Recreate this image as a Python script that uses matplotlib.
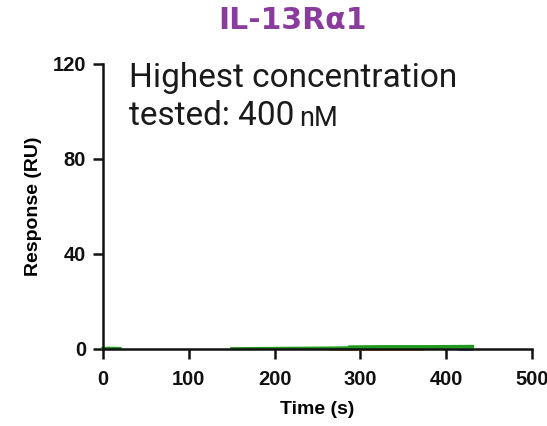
import matplotlib
matplotlib.use("Agg")
import matplotlib.pyplot as plt

# sensorgram traces (time s, response RU), all essentially flat ~0
t_start = [0, 8, 20]
r_start = [0.2, 0.3, 0.2]
t_mid = [150, 190, 230, 270, 288]
r_mid = [0.1, 0.2, 0.3, 0.4, 0.5]
t_high = [288, 330, 380, 430]
r_high = [0.7, 0.8, 0.8, 0.9]
t_orange = [265, 320, 373]
r_orange = [-0.5, -0.5, -0.5]
t_blue = [415, 430]
r_blue = [-0.3, -0.3]

xticks = [0, 100, 200, 300, 400, 500]
yticks = [0, 40, 80, 120]

fig = plt.figure(figsize=(5.47, 4.26), dpi=100)
ax = fig.add_axes([0.188, 0.181, 0.785, 0.669])

green = "#1f9a1f"
ax.plot(t_orange, r_orange, color="#e8862a", lw=1.2, clip_on=False)
ax.plot(t_blue, r_blue, color="#3a6fc4", lw=1.2, clip_on=False)
ax.plot(t_start, r_start, color=green, lw=2.2, clip_on=False)
ax.plot(t_mid, r_mid, color=green, lw=2.2, clip_on=False)
ax.plot(t_high, r_high, color=green, lw=2.8, clip_on=False)

ax.set_xlim(0, 500)
ax.set_ylim(0, 120)
ax.set_xticks(xticks)
ax.set_yticks(yticks)
ax.spines["top"].set_visible(False)
ax.spines["right"].set_visible(False)
for s in ("left", "bottom"):
    ax.spines[s].set_linewidth(1.8)
    ax.spines[s].set_color("#111111")
ax.tick_params(direction="out", length=7, width=1.8, colors="#111111")
ax.tick_params(axis="x", pad=8)
ax.tick_params(axis="y", pad=5)
for lab in ax.get_xticklabels() + ax.get_yticklabels():
    lab.set_fontfamily("Liberation Sans")
    lab.set_fontweight("bold")
    lab.set_fontsize(14.5)

ax.set_xlabel("Time (s)", fontfamily="Liberation Sans", fontweight="bold",
              fontsize=14, labelpad=9)
ax.set_ylabel("Response (RU)", fontfamily="Liberation Sans", fontweight="bold",
              fontsize=14, labelpad=8)

fig.text(0.535, 0.953, "IL-13R\u03b11", color="#8a3c9c", fontsize=21.5,
         fontweight="bold", fontfamily="DejaVu Sans", ha="center", va="center")

t1 = ax.text(0.062, 1.005, "Highest concentration", transform=ax.transAxes,
             fontsize=24, fontfamily="Roboto", va="top", color="#1a1a1a")
t2 = ax.text(0.062, 0.875, "tested: 400", transform=ax.transAxes,
             fontsize=24, fontfamily="Roboto", va="top", color="#1a1a1a")
ax.annotate("nM", xy=(1, 0), xycoords=t2, xytext=(3, 0),
            textcoords="offset points", fontsize=19.5, fontfamily="Roboto",
            va="bottom", color="#1a1a1a")

fig.savefig("out.png", dpi=100)
